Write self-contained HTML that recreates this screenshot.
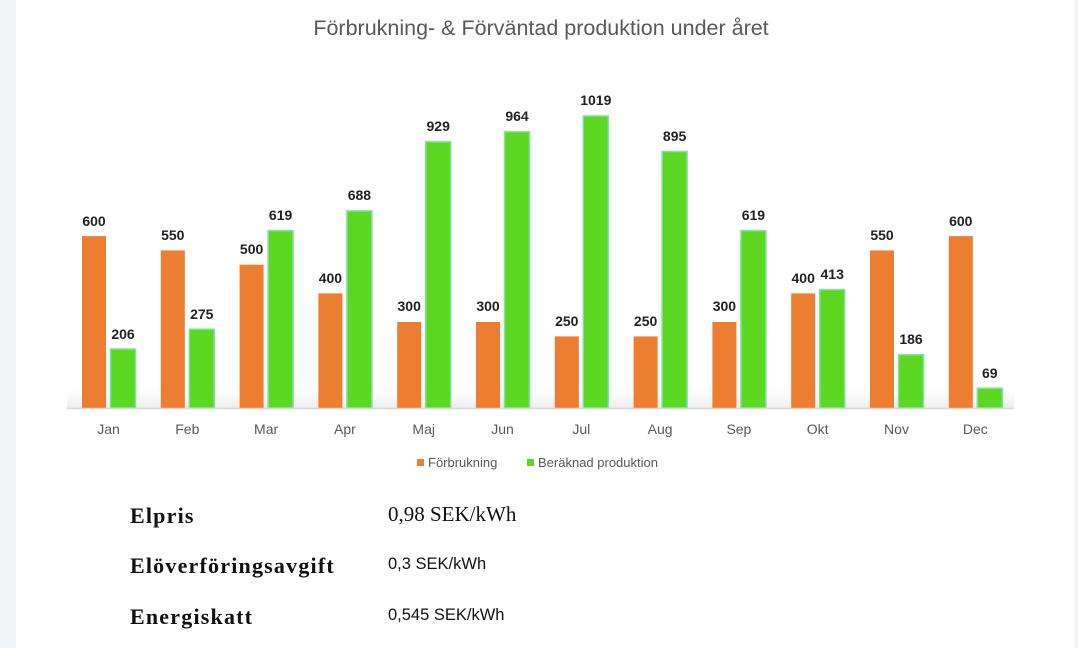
<!DOCTYPE html>
<html><head><meta charset="utf-8"><style>
html,body{margin:0;padding:0;width:1078px;height:648px;overflow:hidden;background:#f3f4f6}
.card{position:absolute;left:16px;top:0;width:1058px;height:648px;background:#fff}
.t{position:absolute;color:#111}
.lbl{font-family:"Liberation Serif",serif;font-weight:bold;font-size:22px;letter-spacing:1.2px;left:130px}
.v{left:388px;font-family:"Liberation Sans",sans-serif;font-size:16.5px}
</style></head><body>
<div class="card"></div>
<svg width="1078" height="648" style="position:absolute;left:0;top:0" font-family="Liberation Sans, sans-serif">
<defs><linearGradient id="sh" x1="0" y1="0" x2="0" y2="1"><stop offset="0" stop-color="#fff" stop-opacity="0"/><stop offset="1" stop-color="#d8d8d8" stop-opacity="0.5"/></linearGradient></defs>
<text x="541" y="35" text-anchor="middle" font-size="21.5" fill="#595959">Förbrukning- &amp; Förväntad produktion under året</text>
<rect x="67" y="385" width="947" height="23" fill="url(#sh)"/>
<g fill="#ed7d31">
<rect x="82" y="236.1" width="24" height="171.9"/>
<rect x="160.8" y="250.4" width="24" height="157.6"/>
<rect x="239.6" y="264.7" width="24" height="143.3"/>
<rect x="318.4" y="293.4" width="24" height="114.6"/>
<rect x="397.2" y="322" width="24" height="86"/>
<rect x="476" y="322" width="24" height="86"/>
<rect x="554.8" y="336.4" width="24" height="71.6"/>
<rect x="633.6" y="336.4" width="24" height="71.6"/>
<rect x="712.4" y="322" width="24" height="86"/>
<rect x="791.2" y="293.4" width="24" height="114.6"/>
<rect x="870" y="250.4" width="24" height="157.6"/>
<rect x="948.8" y="236.1" width="24" height="171.9"/>
</g>
<g fill="#5dd822" stroke="#7fe3a0" stroke-width="1.5">
<rect x="110.5" y="349" width="25" height="59"/>
<rect x="189.3" y="329.2" width="25" height="78.8"/>
<rect x="268.1" y="230.6" width="25" height="177.4"/>
<rect x="346.9" y="210.9" width="25" height="197.1"/>
<rect x="425.7" y="141.8" width="25" height="266.2"/>
<rect x="504.5" y="131.8" width="25" height="276.2"/>
<rect x="583.3" y="116" width="25" height="292"/>
<rect x="662.1" y="151.5" width="25" height="256.5"/>
<rect x="740.9" y="230.6" width="25" height="177.4"/>
<rect x="819.7" y="289.7" width="25" height="118.3"/>
<rect x="898.5" y="354.7" width="25" height="53.3"/>
<rect x="977.3" y="388.2" width="25" height="19.8"/>
</g>
<g font-size="14" font-weight="bold" fill="#222" text-anchor="middle">
<text x="94" y="226">600</text><text x="123" y="339">206</text>
<text x="172.8" y="240">550</text><text x="201.8" y="319">275</text>
<text x="251.6" y="254">500</text><text x="280.6" y="220">619</text>
<text x="330.4" y="283">400</text><text x="359.4" y="200">688</text>
<text x="409.2" y="311">300</text><text x="438.2" y="131">929</text>
<text x="488" y="311">300</text><text x="517" y="121">964</text>
<text x="566.8" y="326">250</text><text x="595.8" y="105">1019</text>
<text x="645.6" y="326">250</text><text x="674.6" y="141">895</text>
<text x="724.4" y="311">300</text><text x="753.4" y="220">619</text>
<text x="803.2" y="283">400</text><text x="832.2" y="279">413</text>
<text x="882" y="240">550</text><text x="911" y="344">186</text>
<text x="960.8" y="226">600</text><text x="989.8" y="378">69</text>
</g>
<g font-size="14" fill="#595959" text-anchor="middle">
<text x="108.5" y="434">Jan</text><text x="187.3" y="434">Feb</text><text x="266.1" y="434">Mar</text>
<text x="344.9" y="434">Apr</text><text x="423.7" y="434">Maj</text><text x="502.5" y="434">Jun</text>
<text x="581.3" y="434">Jul</text><text x="660.1" y="434">Aug</text><text x="738.9" y="434">Sep</text>
<text x="817.7" y="434">Okt</text><text x="896.5" y="434">Nov</text><text x="975.3" y="434">Dec</text>
</g>
<line x1="67" y1="408.5" x2="1014" y2="408.5" stroke="#d9d9d9" stroke-width="1.5"/>
<rect x="417" y="459" width="7" height="7" fill="#ed7d31"/>
<text x="428" y="467" font-size="13" fill="#595959">Förbrukning</text>
<rect x="527" y="459" width="7" height="7" fill="#5dd822"/>
<text x="538" y="467" font-size="13" fill="#595959">Beräknad produktion</text>
</svg>
<div class="t lbl" style="top:503px">Elpris</div>
<div class="t" style="top:502px;left:388px;font-family:'Liberation Serif',serif;font-size:21px">0,98 SEK/kWh</div>
<div class="t lbl" style="top:553px">Elöverföringsavgift</div>
<div class="t v" style="top:555px">0,3 SEK/kWh</div>
<div class="t lbl" style="top:604px">Energiskatt</div>
<div class="t v" style="top:606px">0,545 SEK/kWh</div>
</body></html>
